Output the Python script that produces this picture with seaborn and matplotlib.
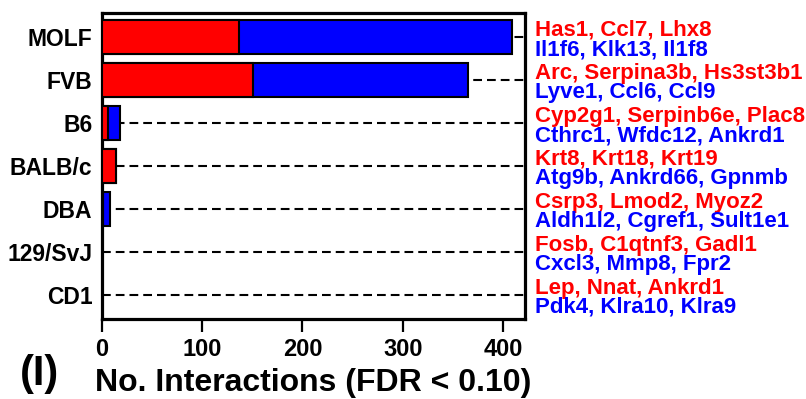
import matplotlib
matplotlib.use("Agg")
import matplotlib.pyplot as plt
import seaborn as sns
import pandas as pd

# ---- data ----
strains = ["MOLF", "FVB", "B6", "BALB/c", "DBA", "129/SvJ", "CD1"]
red_counts = [137, 151, 6, 14, 0, 0, 0]
blue_counts = [272, 214, 12, 0, 8, 0, 0]
red_genes = ["Has1, Ccl7, Lhx8", "Arc, Serpina3b, Hs3st3b1", "Cyp2g1, Serpinb6e, Plac8",
             "Krt8, Krt18, Krt19", "Csrp3, Lmod2, Myoz2", "Fosb, C1qtnf3, Gadl1",
             "Lep, Nnat, Ankrd1"]
blue_genes = ["Il1f6, Klk13, Il1f8", "Lyve1, Ccl6, Ccl9", "Cthrc1, Wfdc12, Ankrd1",
              "Atg9b, Ankrd66, Gpnmb", "Aldh1l2, Cgref1, Sult1e1", "Cxcl3, Mmp8, Fpr2",
              "Pdk4, Klra10, Klra9"]
xticks = [0, 100, 200, 300, 400]
xlabel_text = "No. Interactions (FDR < 0.10)"
panel_label = "(I)"

df = pd.DataFrame({
    "strain": strains,
    "red": red_counts,
    "total": [r + b for r, b in zip(red_counts, blue_counts)],
})

sns.set_theme(style="white")
plt.rcParams["font.family"] = ["Liberation Sans", "DejaVu Sans"]
plt.rcParams["font.weight"] = "bold"
for k in ["text.color", "axes.labelcolor", "xtick.color", "ytick.color", "axes.edgecolor"]:
    plt.rcParams[k] = "black"

fig = plt.figure(figsize=(8.06, 3.99), dpi=100)
ax = fig.add_axes([102 / 806, 1 - 319 / 399, 423 / 806, 306 / 399])

n = len(strains)
ax.hlines(range(n), 0, 430, colors="black", linestyles=(0, (4.2, 2.4)),
          linewidth=1.5, zorder=0)

sns.barplot(data=df, x="total", y="strain", orient="h", color="#0000FF",
            saturation=1, edgecolor="black", linewidth=1.5, width=0.8,
            ax=ax, zorder=2)
sns.barplot(data=df, x="red", y="strain", orient="h", color="#FF0000",
            saturation=1, edgecolor="black", linewidth=1.5, width=0.8,
            ax=ax, zorder=3)

ax.set_xlim(0, 422)
ax.set_ylim(n - 0.44, -0.56)
ax.set_xticks(xticks)
ax.set_xticklabels([str(t) for t in xticks], fontsize=17, fontweight="bold", color="black")
ax.set_yticks(range(n))
ax.set_yticklabels(strains, fontsize=16.5, fontweight="bold", color="black")
ax.tick_params(axis="y", length=0, pad=7, left=False)
ax.tick_params(axis="x", length=9.4, width=1.6, direction="out", pad=4,
               bottom=True, colors="black")
for s in ax.spines.values():
    s.set_linewidth(2.3)
    s.set_color("black")
ax.set_ylabel("")
ax.set_xlabel(xlabel_text, fontsize=23, fontweight="bold", va="baseline", color="black")
ax.xaxis.set_label_coords(0.5, (319 - 391) / 306)

ytr = ax.get_yaxis_transform()
xg = (535 - 102) / 423
for i in range(n):
    ax.text(xg, i - 0.03, red_genes[i], transform=ytr, color="#FF0000",
            fontsize=16, fontweight="bold", ha="left", va="baseline", clip_on=False)
    ax.text(xg, i + 0.42, blue_genes[i], transform=ytr, color="#0000FF",
            fontsize=16, fontweight="bold", ha="left", va="baseline", clip_on=False)

fig.text(40 / 806, 1 - 385 / 399, panel_label, fontsize=30, fontweight="bold",
         ha="center", va="baseline", color="black")

fig.savefig("out.png", dpi=100)
